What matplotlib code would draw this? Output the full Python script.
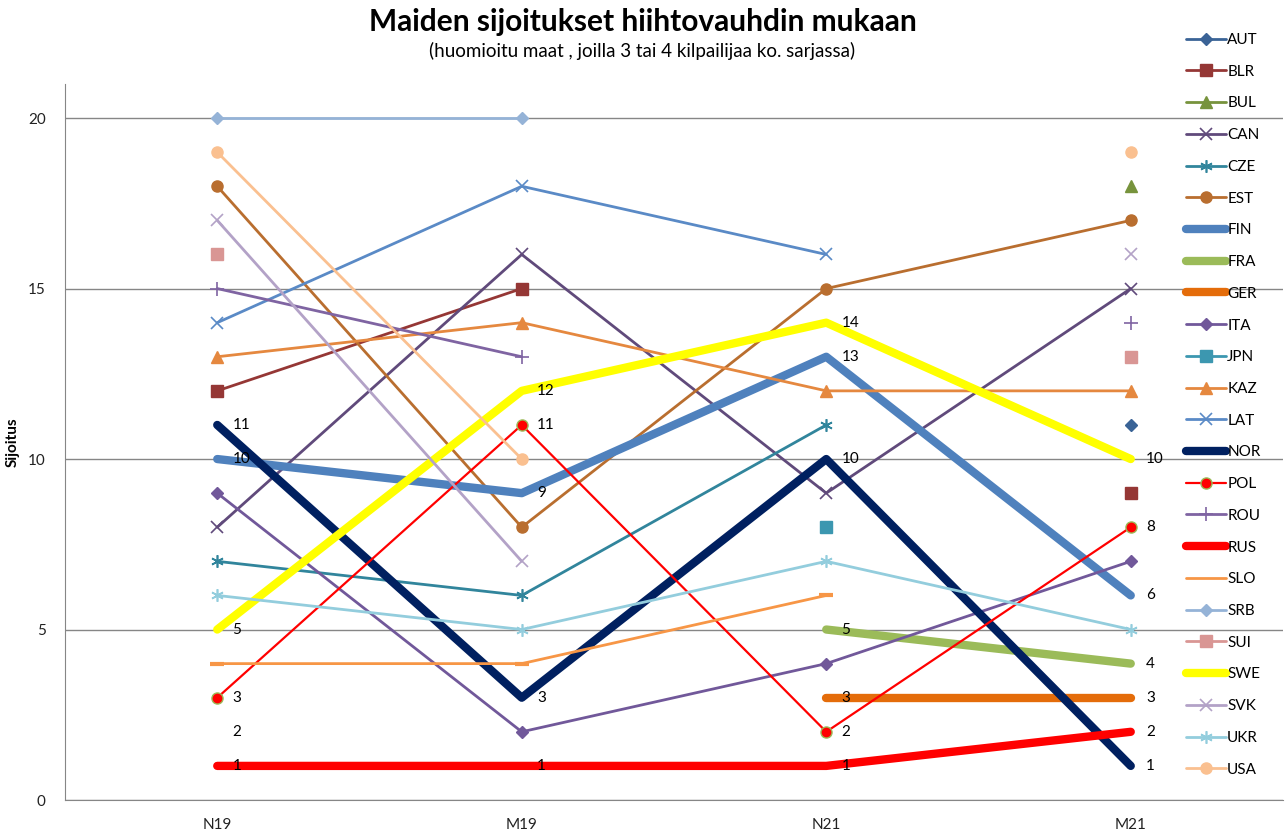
import numpy as np
import matplotlib.pyplot as plt

nan = np.nan
races = ["N19", "M19", "N21", "M21"]

AUT = [nan, nan, nan, 11]
BLR = [12, 15, nan, 9]
BUL = [nan, nan, nan, 18]
CAN = [8, 16, 9, 15]
CZE = [7, 6, 11, nan]
EST = [18, 8, 15, 17]
FIN = [10, 9, 13, 6]
FRA = [nan, nan, 5, 4]
GER = [2, nan, 3, 3]
ITA = [9, 2, 4, 7]
JPN = [nan, nan, 8, nan]
KAZ = [13, 14, 12, 12]
LAT = [14, 18, 16, nan]
NOR = [11, 3, 10, 1]
POL = [3, 11, 2, 8]
ROU = [15, 13, nan, 14]
RUS = [1, 1, 1, 2]
SLO = [4, 4, 6, nan]
SRB = [20, 20, nan, nan]
SUI = [16, nan, nan, 13]
SWE = [5, 12, 14, 10]
SVK = [17, 7, nan, 16]
UKR = [6, 5, 7, 5]
USA = [19, 10, nan, 19]

ast = (6, 2, 0)
# name, values, color, linewidth, marker, markersize, labelled
series = [
    ("AUT", AUT, "#3A6396", 2, "D", 6, False),
    ("BLR", BLR, "#953735", 2, "s", 8, False),
    ("BUL", BUL, "#77933C", 2, "^", 8, False),
    ("CAN", CAN, "#604A7B", 2, "x", 9, False),
    ("CZE", CZE, "#31859C", 2, ast, 9, False),
    ("EST", EST, "#B96E2F", 2, "o", 8, False),
    ("FIN", FIN, "#4F81BD", 6, None, 0, True),
    ("FRA", FRA, "#9BBB59", 6, None, 0, True),
    ("GER", GER, "#E46C0A", 6, None, 0, True),
    ("ITA", ITA, "#71589A", 2, "D", 6, False),
    ("JPN", JPN, "#3C97B0", 2, "s", 8, False),
    ("KAZ", KAZ, "#E5883F", 2, "^", 8, False),
    ("LAT", LAT, "#5A8AC6", 2, "x", 9, False),
    ("NOR", NOR, "#002060", 6, None, 0, True),
    ("POL", POL, "#FF0000", 1.6, "o", 8, True),
    ("ROU", ROU, "#7F64A2", 2, "+", 10, False),
    ("RUS", RUS, "#FF0000", 6, None, 0, True),
    ("SLO", SLO, "#F79646", 2, "_", 10, False),
    ("SRB", SRB, "#95B3D7", 2, "D", 6, False),
    ("SUI", SUI, "#D99694", 2, "s", 8, False),
    ("SWE", SWE, "#FFFF00", 6, None, 0, True),
    ("SVK", SVK, "#B3A2C7", 2, "x", 9, False),
    ("UKR", UKR, "#93CDDD", 2, ast, 9, False),
    ("USA", USA, "#FAC090", 2, "o", 8, False),
]

plt.rcParams['font.family'] = ['Lato', 'DejaVu Sans']

fig = plt.figure(figsize=(12.85, 8.34), dpi=100)
ax = fig.add_axes([65/1285, 34/834, 1218/1285, 716/834])

x = np.arange(len(races))
for name, vals, col, lw, mk, ms, lab in series:
    kw = dict(color=col, lw=lw, solid_capstyle="round", label=name, clip_on=False)
    if mk is not None:
        kw.update(marker=mk, markersize=ms, markerfacecolor=col, markeredgecolor=col,
                  markeredgewidth=1.2 if mk in ("x", "+", ast) else 1)
        if mk == "_":
            kw["markeredgewidth"] = 3
    if name == "POL":
        kw["markeredgecolor"] = "#9BBB59"
    ax.plot(x, vals, **kw)

for name, vals, col, lw, mk, ms, lab in series:
    if not lab:
        continue
    for xi, v in zip(x, vals):
        if np.isnan(v):
            continue
        ax.annotate(str(int(v)), (xi, v), xytext=(11, 0), textcoords="offset points",
                    va="center", ha="left", fontsize=11, color="black", zorder=10)

ax.set_xlim(-0.5, 3.5)
ax.set_ylim(0, 21)
ax.set_yticks([0, 5, 10, 15, 20])
ax.set_xticks(x)
ax.set_xticklabels(races)
ax.tick_params(length=0, labelsize=11, colors="#222222")
ax.tick_params(axis="y", pad=14)
ax.tick_params(axis="x", pad=13)
ax.yaxis.grid(True, color="#868686", lw=1)
ax.set_axisbelow(True)
for s in ("top", "right"):
    ax.spines[s].set_visible(False)
for s in ("left", "bottom"):
    ax.spines[s].set_color("#868686")
ax.set_ylabel("Sijoitus", fontsize=11, fontweight="bold", labelpad=6)

fig.text(0.5, 0.974, "Maiden sijoitukset hiihtovauhdin mukaan", ha="center", va="center",
         fontsize=21.5, fontweight="bold")
fig.text(0.5, 0.939, "(huomioitu maat , joilla 3 tai 4 kilpailijaa ko. sarjassa)", ha="center",
         va="center", fontsize=13.5)

leg = fig.legend(loc="upper left", bbox_to_anchor=(1186/1285, 1 - 33/834), frameon=False,
                 fontsize=11, handlelength=2.6, handletextpad=0.1, labelspacing=1.16,
                 borderpad=0, borderaxespad=0)
for h, t in zip(leg.legend_handles, leg.get_texts()):
    if t.get_text() == "SLO":
        h.set_marker("None")

fig.savefig("out.png", dpi=100)
